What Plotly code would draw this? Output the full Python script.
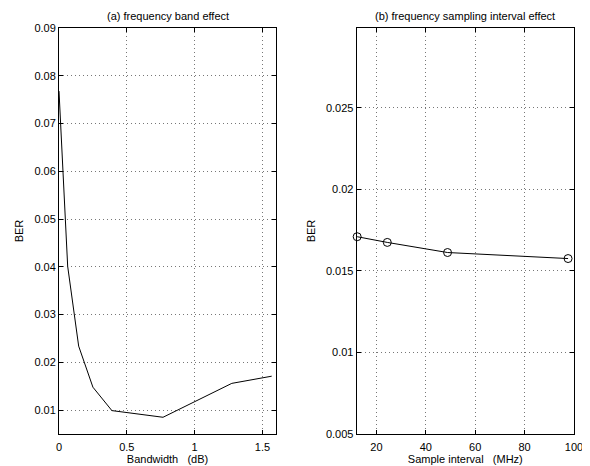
import plotly.graph_objects as go

# Panel (a): frequency band effect
bw_x = [0.0, 0.064, 0.145, 0.25, 0.39, 0.767, 1.274, 1.568]
bw_ber = [0.0768, 0.0401, 0.0234, 0.0148, 0.0099, 0.0085, 0.0156, 0.0171]

# Panel (b): frequency sampling interval effect
si_x = [12.2, 24.4, 48.8, 97.6]
si_ber = [0.0171, 0.01675, 0.01613, 0.01576]

a_yticks = [0.01, 0.02, 0.03, 0.04, 0.05, 0.06, 0.07, 0.08, 0.09]
a_ytext = ["0.01", "0.02", "0.03", "0.04", "0.05", "0.06", "0.07", "0.08", "0.09"]
a_xticks = [0, 0.5, 1, 1.5]
a_xtext = ["0", "0.5", "1", "1.5"]
b_yticks = [0.005, 0.01, 0.015, 0.02, 0.025]
b_ytext = ["0.005", "0.01", "0.015", "0.02", "0.025"]
b_xticks = [20, 40, 60, 80, 100]
b_xtext = ["20", "40", "60", "80", "100"]

font = dict(family="Liberation Sans, Arial, sans-serif", size=11, color="black")

fig = go.Figure()
fig.add_trace(go.Scatter(x=bw_x, y=bw_ber, mode="lines",
                         line=dict(color="black", width=1),
                         xaxis="x", yaxis="y", showlegend=False))
fig.add_trace(go.Scatter(x=si_x, y=si_ber, mode="lines+markers",
                         line=dict(color="black", width=1),
                         marker=dict(symbol="circle-open", size=8, color="black",
                                     line=dict(width=1, color="black")),
                         xaxis="x2", yaxis="y2", showlegend=False, cliponaxis=False))

ax_common = dict(showline=True, linecolor="black", linewidth=1, mirror="ticks",
                 ticks="inside", ticklen=4, tickcolor="black",
                 showgrid=True, gridcolor="#777777", griddash="1px,3px", gridwidth=1,
                 zeroline=False, tickfont=font, automargin=False)

# page body has an 8px default margin, so the figure is sized/offset to compensate
fig.update_layout(
    width=582, height=458,
    margin=dict(l=51, r=16, t=20, b=32),
    plot_bgcolor="white", paper_bgcolor="white",
    font=font,
    xaxis=dict(domain=[0, 0.4214], range=[0, 1.6], tickvals=a_xticks, ticktext=a_xtext,
               ticklabelstandoff=3,
               title=dict(text="Bandwidth\u00a0\u00a0\u00a0(dB)", standoff=0, font=font),
               anchor="y", **ax_common),
    yaxis=dict(domain=[0, 1], range=[0.005, 0.09], tickvals=a_yticks, ticktext=a_ytext,
               title=dict(text="BER", standoff=8, font=font),
               anchor="x", **ax_common),
    xaxis2=dict(domain=[0.578, 1], range=[12, 100], tickvals=b_xticks, ticktext=b_xtext,
                ticklabelstandoff=3,
                title=dict(text="Sample interval\u00a0\u00a0\u00a0(MHz)", standoff=0, font=font),
                anchor="y2", **ax_common),
    yaxis2=dict(domain=[0, 1], range=[0.005, 0.0299], tickvals=b_yticks, ticktext=b_ytext,
                title=dict(text="BER", standoff=8, font=font),
                anchor="x2", **ax_common),
    annotations=[
        dict(text="(a) frequency band effect", x=0.2107, y=1, xref="paper", yref="paper",
             xanchor="center", yanchor="bottom", yshift=4, showarrow=False, font=font),
        dict(text="(b) frequency sampling interval effect", x=0.789, y=1, xref="paper",
             yref="paper", xanchor="center", yanchor="bottom", yshift=4, showarrow=False,
             font=font),
    ],
)

fig.write_html("out.html")
